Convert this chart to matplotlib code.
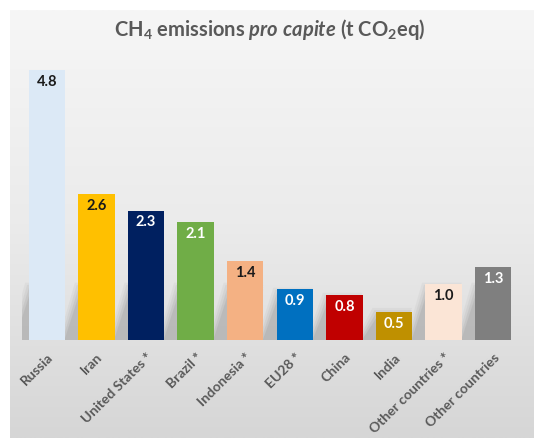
import numpy as np
import matplotlib
matplotlib.use("Agg")
import matplotlib.pyplot as plt
from matplotlib.patches import Polygon
from matplotlib.colors import LinearSegmentedColormap

categories = ["Russia", "Iran", "United States *", "Brazil *", "Indonesia *",
              "EU28 *", "China", "India", "Other countries *", "Other countries"]
values = [4.8, 2.6, 2.3, 2.1, 1.4, 0.9, 0.8, 0.5, 1.0, 1.3]
labels = ["4.8", "2.6", "2.3", "2.1", "1.4", "0.9", "0.8", "0.5", "1.0", "1.3"]
colors = ["#dce9f6", "#ffc000", "#002060", "#70ad47", "#f4b183",
          "#0070c0", "#c00000", "#bf9000", "#fbe5d6", "#7f7f7f"]
label_colors = ["#1a1a1a", "#1a1a1a", "white", "white", "#1a1a1a",
                "white", "white", "white", "#1a1a1a", "white"]

plt.rcParams['font.family'] = ['Lato', 'DejaVu Sans']
plt.rcParams['mathtext.fontset'] = 'custom'
plt.rcParams['mathtext.rm'] = 'Lato:bold'
plt.rcParams['mathtext.it'] = 'Lato:italic:bold'
plt.rcParams['mathtext.bf'] = 'Lato:bold'

W, H = 534, 438
fig = plt.figure(figsize=(W / 100, H / 100), dpi=100)
fig.patch.set_facecolor("white")

# background panel with vertical gradient
bg = fig.add_axes([10 / W, 0, 1 - 10 / W, 1 - 10 / H])
grad = np.linspace(0, 1, 256).reshape(-1, 1)
cmap = LinearSegmentedColormap.from_list("g", ["#f6f6f6", "#ebebeb", "#d6d6d6"])
bg.imshow(grad, aspect="auto", cmap=cmap, extent=[0, 1, 0, 1], origin="upper")
bg.set_axis_off()

ax = fig.add_axes([22 / W, (H - 340) / H, 496 / W, 281.25 / H])
ax.set_facecolor("none")
x = np.arange(len(categories))
bw = 0.73

# soft shadows behind bars
for xi, v in zip(x, values):
    xl = xi - bw / 2
    hs = min(v, 1.0) * 0.9
    for k, a in enumerate([0.06, 0.08, 0.10, 0.12]):
        sh = 0.04 * (3 - k)
        poly = Polygon([(xl - 0.28 - sh, 0), (xl + bw - 0.28, 0),
                        (xl + bw, hs + sh), (xl + 0.05 - sh, hs + sh)],
                       closed=True, facecolor="#6a6a6a", alpha=a,
                       edgecolor="none", zorder=1)
        ax.add_patch(poly)

ax.bar(x, values, width=bw, color=colors, zorder=2, linewidth=0)
for xi, v, lab, lc in zip(x, values, labels, label_colors):
    ax.text(xi, v - 0.21, lab, ha="center", va="center", fontsize=10.5,
            fontweight="bold", color=lc, zorder=3)

ax.set_xlim(-0.5, len(categories) - 0.5)
ax.set_ylim(0, 5.0)
ax.set_yticks([])
ax.set_xticks(x)
ax.set_xticklabels(categories, rotation=45, ha="right", rotation_mode="anchor",
                   fontsize=10, color="#595959", fontweight="bold")
ax.tick_params(axis="x", length=0, pad=8)
for s in ax.spines.values():
    s.set_visible(False)

fig.text(0.5 + 3 / W, 1 - 29 / H,
         r"CH$_4$ emissions $\it{pro\ capite}$ (t CO$_2$eq)",
         ha="center", va="center", fontsize=14.5, color="#595959",
         fontweight="bold")

fig.savefig("out.png", dpi=100)
